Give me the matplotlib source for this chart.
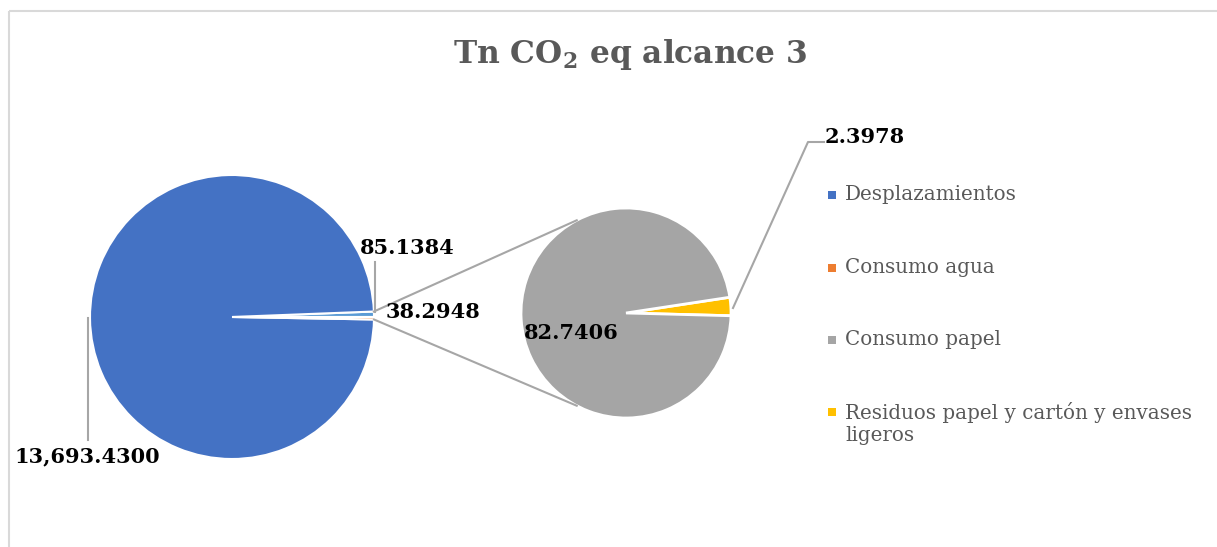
import textwrap
import matplotlib
matplotlib.use("Agg")
import matplotlib.pyplot as plt
from matplotlib.patches import Rectangle
from matplotlib.lines import Line2D
import numpy as np

# ---- data ----
categories = ["Desplazamientos", "Consumo agua", "Consumo papel",
              "Residuos papel y cartón y envases ligeros"]
values = [13693.4300, 38.2948, 82.7406, 2.3978]
colors = ["#4472C4", "#ED7D31", "#A5A5A5", "#FFC000"]
other_color = "#5B9BD5"
title_text = r"Tn CO$_{\mathbf{2}}$ eq alcance 3"

plt.rcParams["font.family"] = ["DejaVu Serif"]
plt.rcParams["mathtext.fontset"] = "custom"
plt.rcParams["mathtext.rm"] = "DejaVu Serif"
plt.rcParams["mathtext.bf"] = "DejaVu Serif:bold"

W, H = 1217, 547
fig = plt.figure(figsize=(W / 100, H / 100), dpi=100)
ax = fig.add_axes([0, 0, 1, 1])


def Y(py):
    return H - py


# chart frame (left and top edges only visible)
fig.add_artist(Line2D([9 / W, 9 / W], [0, Y(11) / H], color="#D9D9D9", lw=1.5,
                      solid_capstyle="butt"))
fig.add_artist(Line2D([9 / W, 1.01], [Y(11) / H, Y(11) / H], color="#D9D9D9", lw=1.5,
                      solid_capstyle="butt"))

# main pie: other, desplazamientos, agua
other_val = values[2] + values[3]
main_vals = [other_val, values[0], values[1]]
main_cols = [other_color, colors[0], colors[1]]
c1 = (232, Y(317))
r1 = 142
ax.pie(main_vals, colors=main_cols, startangle=0, counterclock=True,
       center=c1, radius=r1, frame=True,
       wedgeprops=dict(edgecolor="white", linewidth=1.5))

# secondary pie: residuos, papel
sec_vals = [values[3], values[2]]
sec_cols = [colors[3], colors[2]]
c2 = (626, Y(313))
r2 = 105
ax.pie(sec_vals, colors=sec_cols, startangle=-1.5, counterclock=True,
       center=c2, radius=r2, frame=True,
       wedgeprops=dict(edgecolor="white", linewidth=2))
ax.set_xlim(0, W)
ax.set_ylim(0, H)
ax.set_aspect("equal")
ax.axis("off")

# connector lines
tot = sum(main_vals)
a_top = np.deg2rad(360 * other_val / tot)
a_bot = np.deg2rad(-360 * values[1] / tot)
p_top = (c1[0] + r1 * np.cos(a_top), c1[1] + r1 * np.sin(a_top))
p_bot = (c1[0] + r1 * np.cos(a_bot), c1[1] + r1 * np.sin(a_bot))
q_top = (c2[0] + r2 * np.cos(np.deg2rad(118)), c2[1] + r2 * np.sin(np.deg2rad(118)))
q_bot = (c2[0] + r2 * np.cos(np.deg2rad(242)), c2[1] + r2 * np.sin(np.deg2rad(242)))
lc = "#A6A6A6"
ax.plot([p_top[0], q_top[0]], [p_top[1], q_top[1]], color=lc, lw=1.5)
ax.plot([p_bot[0], q_bot[0]], [p_bot[1], q_bot[1]], color=lc, lw=1.5)

# data labels
lab_kw = dict(fontsize=15, fontweight="bold", color="black", va="center", ha="center")
ax.plot([375, 375], [Y(312), Y(262)], color=lc, lw=1.5)
ax.text(407, Y(248), f"{other_val:.4f}", **lab_kw)
ax.text(433, Y(312), f"{values[1]:.4f}", **lab_kw)
ax.plot([88, 88], [Y(318), Y(440)], color=lc, lw=1.5)
ax.text(87, Y(456), f"{values[0]:,.4f}", **lab_kw)
ax.text(571, Y(333), f"{values[2]:.4f}", **lab_kw)
ax.plot([733, 808, 824], [Y(308), Y(142), Y(142)], color=lc, lw=1.5)
ax.text(865, Y(137), f"{values[3]:.4f}", **lab_kw)

# title
ax.text(630, Y(55), title_text, fontsize=22.5, fontweight="bold",
        color="#595959", ha="center", va="center")

# legend
leg_y = [195, 268, 340, 412]
for cat, col, py in zip(categories, colors, leg_y):
    ax.add_patch(Rectangle((828, Y(py) - 4), 8, 8, facecolor=col, edgecolor="none"))
    txt = textwrap.fill(cat, 33)
    ax.text(845, Y(py) + 10, txt, fontsize=14.3, color="#595959",
            ha="left", va="top", linespacing=1.2)

fig.savefig("out.png", dpi=100)
